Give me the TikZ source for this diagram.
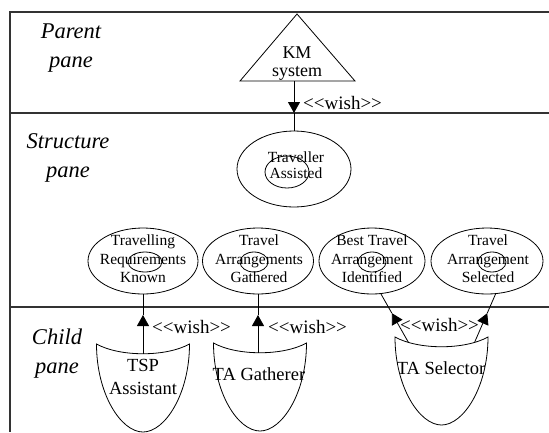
\documentclass[tikz,border=0pt]{standalone}
\usepackage{fontspec}
\setmainfont{Liberation Serif}
\usetikzlibrary{shapes.geometric,arrows.meta,calc}
\newcommand\wishtext{<\kern0pt<wish>\kern0pt>}
\tikzset{
  frame/.style={line width=1.3pt, draw=black!80},
  outl/.style={draw=black, line width=0.8pt},
  goal/.style={draw=black, line width=0.8pt, ellipse, inner sep=0pt, outer sep=0pt},
  panelabel/.style={font=\fontsize{22.5}{29}\selectfont\itshape, align=center, inner sep=0pt},
  goaltext/.style={font=\fontsize{15.5}{18.5}\selectfont, align=center, inner sep=0pt},
  agenttext/.style={font=\fontsize{18.5}{22.5}\selectfont, align=center, inner sep=0pt},
  wishlabel/.style={font=\fontsize{19}{20}\selectfont, anchor=west, inner sep=0pt},
  uptip/.style={-{Triangle[length=11pt,width=12pt]}},
  agentshield/.pic={
    \draw[outl] (-46.5,0) .. controls (-23,13) and (23,13) .. (46.5,0)
       .. controls (46.5,50) and (22,88) .. (0,88)
       .. controls (-22,88) and (-46.5,50) .. (-46.5,0) -- cycle;
    \coordinate (-top) at (0,10);
    \coordinate (-tl) at (-33,5.5);
    \coordinate (-tr) at (33,5.5);
  }
}
\begin{document}
\begin{tikzpicture}[x=1pt,y=-1pt]
\useasboundingbox (0,0) rectangle (549,432);
% frame
\draw[frame] (549,12) -- (10,12) -- (10,432);
\draw[frame] (10,113) -- (549,113);
\draw[frame] (10,307) -- (549,307);

% pane labels
\node[panelabel] (lp) at (71,48) {Parent\\pane};
\node[panelabel] (ls) at (68,158) {Structure\\pane};
\node[panelabel] (lc) at (57,354) {Child\\pane};

% parent: KM system
\draw[outl] (297,14) -- (355,81) -- (240,81) -- cycle;
\node[agenttext, font=\fontsize{18}{18}\selectfont] (km) at (297,64) {KM\\system};
\coordinate (kmb) at (294,81);
\coordinate (s1) at (294,113);

% structure: Traveller Assisted
\node[goal, minimum width=114pt, minimum height=76pt] (ta) at (294,169) {};
\draw[outl] (287,172) ellipse [x radius=22, y radius=16];
\node[goaltext, font=\fontsize{15.5}{16.5}\selectfont] (tat) at (296,165) {Traveller\\Assisted};

\draw[outl, uptip] (kmb) -- (s1);
\draw[outl] (s1) -- (ta.north);
\node[wishlabel] (w0) at (303,103) {\wishtext};

% sub goals
\node[goal, minimum width=110pt, minimum height=66pt] (g1) at (143,261) {};
\node[goal, minimum width=111pt, minimum height=66pt] (g2) at (258,261) {};
\node[goal, minimum width=106pt, minimum height=66pt] (g3) at (372,261) {};
\node[goal, minimum width=112pt, minimum height=66pt] (g4) at (487,261) {};
\draw[outl] (145,262) ellipse [x radius=17, y radius=10];
\draw[outl] (254,262) ellipse [x radius=14, y radius=10];
\draw[outl] (372,262) ellipse [x radius=14, y radius=10];
\draw[outl] (492,262) ellipse [x radius=14, y radius=10];
\node[goaltext] (g1t) at (143,259) {Travelling\\Requirements\\Known};
\node[goaltext] (g2t) at (259,259) {Travel\\Arrangements\\Gathered};
\node[goaltext] (g3t) at (372,259) {Best Travel\\Arrangement\\Identified};
\node[goaltext] (g4t) at (488,259) {Travel\\Arrangement\\Selected};

% child agents
\pic (a1) at (143,344) {agentshield};
\pic (a2) at (260,343) {agentshield};
\pic (a3) at (441.5,337) {agentshield};
\node[agenttext] (a1t) at (143,377) {TSP\\Assistant};
\node[agenttext] (a2t) at (259,374) {TA Gatherer};
\node[agenttext] (a3t) at (441,368) {TA Selector};

% wish connectors
\coordinate (c1) at (143,354);
\coordinate (t1) at (143,315);
\draw[outl, uptip] (c1) -- (t1);
\draw[outl] (t1) -- (g1.south);

\coordinate (c2) at (258,353);
\coordinate (t2) at (258,315);
\draw[outl, uptip] (c2) -- (t2);
\draw[outl] (t2) -- (g2.south);

\coordinate (t3) at ($(g3.-75)!0.40!(a3-tl)$);
\draw[outl, uptip] (a3-tl) -- (t3);
\draw[outl] (t3) -- (g3.-75);

\coordinate (t4) at ($(g4.-75)!0.40!(a3-tr)$);
\draw[outl, uptip] (a3-tr) -- (t4);
\draw[outl] (t4) -- (g4.-75);

\node[wishlabel] (w1) at (152,327) {\wishtext};
\node[wishlabel] (w2) at (268,327) {\wishtext};
\node[wishlabel] (w3) at (400,325) {\wishtext};
\end{tikzpicture}
\end{document}
